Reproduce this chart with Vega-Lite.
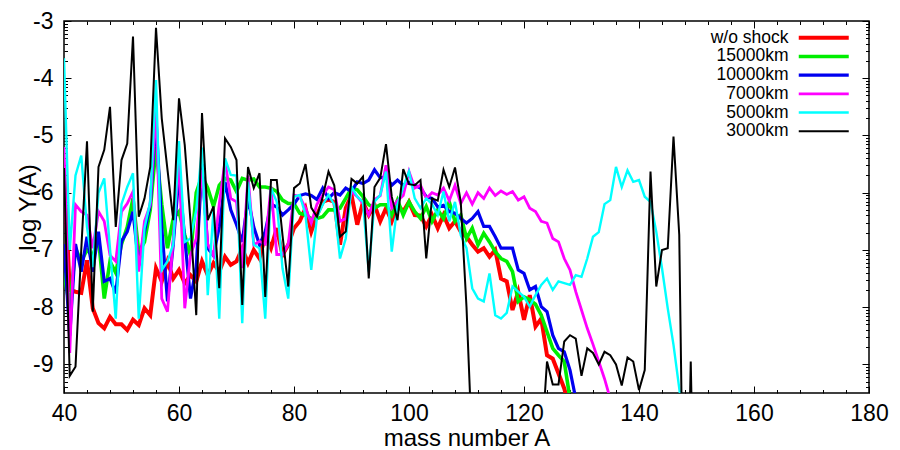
{
"$schema": "https://vega.github.io/schema/vega-lite/v6.json",
"autosize": {"type": "none"},
"width": 805, "height": 372,
"padding": {"left": 64, "top": 21, "right": 31, "bottom": 57},
"background": "white",
"config": {
  "view": {"stroke": "#000000", "strokeWidth": 1.5},
  "font": "Liberation Sans",
  "axis": {"domain": false, "grid": false, "tickColor": "#000000", "tickWidth": 1, "labelColor": "#000000", "titleColor": "#000000", "labelFont": "Liberation Sans", "titleFont": "Liberation Sans", "titleFontWeight": "normal", "labelFlush": false, "labelOverlap": false},
  "legend": {"orient": "none", "legendX": 751, "legendY": 8, "padding": 0, "symbolType": "M-5,0H5", "symbolSize": 100, "labelAlign": "right", "labelOffset": -44, "labelFontSize": 17.5, "labelFontWeight": "normal", "labelFont": "Liberation Sans", "labelColor": "#000000", "rowPadding": -0.3, "title": null}
},
"data": {"values": [
{"s":"w/o shock","A":40,"y":-5.57},{"s":"w/o shock","A":41,"y":-7.7},{"s":"w/o shock","A":42,"y":-7.73},{"s":"w/o shock","A":43,"y":-7.75},{"s":"w/o shock","A":44,"y":-7.18},{"s":"w/o shock","A":45,"y":-8.02},{"s":"w/o shock","A":46,"y":-8.28},{"s":"w/o shock","A":47,"y":-8.37},{"s":"w/o shock","A":48,"y":-8.17},{"s":"w/o shock","A":49,"y":-8.3},
{"s":"w/o shock","A":50,"y":-8.3},{"s":"w/o shock","A":51,"y":-8.4},{"s":"w/o shock","A":52,"y":-8.22},{"s":"w/o shock","A":53,"y":-8.31},{"s":"w/o shock","A":54,"y":-8.02},{"s":"w/o shock","A":55,"y":-8.14},{"s":"w/o shock","A":56,"y":-7.32},{"s":"w/o shock","A":57,"y":-7.55},{"s":"w/o shock","A":58,"y":-7.2},{"s":"w/o shock","A":59,"y":-7.5},
{"s":"w/o shock","A":60,"y":-7.35},{"s":"w/o shock","A":61,"y":-7.58},{"s":"w/o shock","A":62,"y":-7.44},{"s":"w/o shock","A":63,"y":-7.55},{"s":"w/o shock","A":64,"y":-7.2},{"s":"w/o shock","A":65,"y":-7.44},{"s":"w/o shock","A":66,"y":-7.23},{"s":"w/o shock","A":67,"y":-7.38},{"s":"w/o shock","A":68,"y":-7.12},{"s":"w/o shock","A":69,"y":-7.26},
{"s":"w/o shock","A":70,"y":-7.2},{"s":"w/o shock","A":71,"y":-6.97},{"s":"w/o shock","A":72,"y":-7.23},{"s":"w/o shock","A":73,"y":-7.0},{"s":"w/o shock","A":74,"y":-7.15},{"s":"w/o shock","A":75,"y":-6.74},{"s":"w/o shock","A":76,"y":-6.97},{"s":"w/o shock","A":77,"y":-6.62},{"s":"w/o shock","A":78,"y":-7.09},{"s":"w/o shock","A":79,"y":-6.91},
{"s":"w/o shock","A":80,"y":-6.62},{"s":"w/o shock","A":81,"y":-6.5},{"s":"w/o shock","A":82,"y":-6.27},{"s":"w/o shock","A":83,"y":-6.68},{"s":"w/o shock","A":84,"y":-6.39},{"s":"w/o shock","A":85,"y":-6.16},{"s":"w/o shock","A":86,"y":-6.12},{"s":"w/o shock","A":87,"y":-6.16},{"s":"w/o shock","A":88,"y":-6.91},{"s":"w/o shock","A":89,"y":-6.27},
{"s":"w/o shock","A":90,"y":-6.04},{"s":"w/o shock","A":91,"y":-6.56},{"s":"w/o shock","A":92,"y":-6.16},{"s":"w/o shock","A":93,"y":-6.39},{"s":"w/o shock","A":94,"y":-6.21},{"s":"w/o shock","A":95,"y":-6.5},{"s":"w/o shock","A":96,"y":-6.27},{"s":"w/o shock","A":97,"y":-6.5},{"s":"w/o shock","A":98,"y":-6.21},{"s":"w/o shock","A":99,"y":-6.33},
{"s":"w/o shock","A":100,"y":-6.16},{"s":"w/o shock","A":101,"y":-6.39},{"s":"w/o shock","A":102,"y":-6.4},{"s":"w/o shock","A":103,"y":-6.59},{"s":"w/o shock","A":104,"y":-6.39},{"s":"w/o shock","A":105,"y":-6.62},{"s":"w/o shock","A":106,"y":-6.39},{"s":"w/o shock","A":107,"y":-6.62},{"s":"w/o shock","A":108,"y":-6.5},{"s":"w/o shock","A":109,"y":-6.68},
{"s":"w/o shock","A":110,"y":-6.77},{"s":"w/o shock","A":111,"y":-6.91},{"s":"w/o shock","A":112,"y":-7.03},{"s":"w/o shock","A":113,"y":-6.97},{"s":"w/o shock","A":114,"y":-7.12},{"s":"w/o shock","A":115,"y":-7.0},{"s":"w/o shock","A":116,"y":-7.5},{"s":"w/o shock","A":117,"y":-7.55},{"s":"w/o shock","A":118,"y":-8.05},{"s":"w/o shock","A":119,"y":-7.73},
{"s":"w/o shock","A":120,"y":-8.22},{"s":"w/o shock","A":121,"y":-7.79},{"s":"w/o shock","A":122,"y":-8.34},{"s":"w/o shock","A":123,"y":-8.2},{"s":"w/o shock","A":124,"y":-8.84},{"s":"w/o shock","A":125,"y":-8.9},{"s":"w/o shock","A":126,"y":-9.16},{"s":"w/o shock","A":127,"y":-9.42},{"s":"w/o shock","A":128,"y":-9.8},{"s":"w/o shock","A":129,"y":-10.2},

{"s":"15000km","A":40,"y":-7.4},{"s":"15000km","A":41,"y":-8.0},{"s":"15000km","A":42,"y":-6.97},{"s":"15000km","A":43,"y":-7.2},{"s":"15000km","A":44,"y":-7.0},{"s":"15000km","A":45,"y":-7.1},{"s":"15000km","A":46,"y":-6.8},{"s":"15000km","A":47,"y":-7.85},{"s":"15000km","A":48,"y":-7.2},{"s":"15000km","A":49,"y":-7.4},
{"s":"15000km","A":50,"y":-6.9},{"s":"15000km","A":51,"y":-6.6},{"s":"15000km","A":52,"y":-6.1},{"s":"15000km","A":53,"y":-7.05},{"s":"15000km","A":54,"y":-6.86},{"s":"15000km","A":55,"y":-6.3},{"s":"15000km","A":56,"y":-5.2},{"s":"15000km","A":57,"y":-6.2},{"s":"15000km","A":58,"y":-6.97},{"s":"15000km","A":59,"y":-6.45},
{"s":"15000km","A":60,"y":-6.33},{"s":"15000km","A":61,"y":-6.74},{"s":"15000km","A":62,"y":-7.1},{"s":"15000km","A":63,"y":-6.0},{"s":"15000km","A":64,"y":-5.7},{"s":"15000km","A":65,"y":-5.92},{"s":"15000km","A":66,"y":-6.24},{"s":"15000km","A":67,"y":-5.87},{"s":"15000km","A":68,"y":-5.75},{"s":"15000km","A":69,"y":-5.78},
{"s":"15000km","A":70,"y":-5.98},{"s":"15000km","A":71,"y":-5.75},{"s":"15000km","A":72,"y":-5.78},{"s":"15000km","A":73,"y":-5.76},{"s":"15000km","A":74,"y":-5.9},{"s":"15000km","A":75,"y":-5.9},{"s":"15000km","A":76,"y":-5.92},{"s":"15000km","A":77,"y":-5.98},{"s":"15000km","A":78,"y":-6.13},{"s":"15000km","A":79,"y":-6.19},
{"s":"15000km","A":80,"y":-6.19},{"s":"15000km","A":81,"y":-6.36},{"s":"15000km","A":82,"y":-6.39},{"s":"15000km","A":83,"y":-6.45},{"s":"15000km","A":84,"y":-6.45},{"s":"15000km","A":85,"y":-6.42},{"s":"15000km","A":86,"y":-6.3},{"s":"15000km","A":87,"y":-6.3},{"s":"15000km","A":88,"y":-6.27},{"s":"15000km","A":89,"y":-6.1},
{"s":"15000km","A":90,"y":-5.92},{"s":"15000km","A":91,"y":-5.95},{"s":"15000km","A":92,"y":-6.07},{"s":"15000km","A":93,"y":-6.21},{"s":"15000km","A":94,"y":-6.27},{"s":"15000km","A":95,"y":-6.21},{"s":"15000km","A":96,"y":-6.21},{"s":"15000km","A":97,"y":-6.39},{"s":"15000km","A":98,"y":-6.13},{"s":"15000km","A":99,"y":-6.39},
{"s":"15000km","A":100,"y":-6.16},{"s":"15000km","A":101,"y":-6.33},{"s":"15000km","A":102,"y":-6.45},{"s":"15000km","A":103,"y":-6.24},{"s":"15000km","A":104,"y":-6.5},{"s":"15000km","A":105,"y":-6.3},{"s":"15000km","A":106,"y":-6.45},{"s":"15000km","A":107,"y":-6.16},{"s":"15000km","A":108,"y":-6.5},{"s":"15000km","A":109,"y":-6.39},
{"s":"15000km","A":110,"y":-6.8},{"s":"15000km","A":111,"y":-6.62},{"s":"15000km","A":112,"y":-6.91},{"s":"15000km","A":113,"y":-6.71},{"s":"15000km","A":114,"y":-6.86},{"s":"15000km","A":115,"y":-7.03},{"s":"15000km","A":116,"y":-7.15},{"s":"15000km","A":117,"y":-7.2},{"s":"15000km","A":118,"y":-7.38},{"s":"15000km","A":119,"y":-7.9},
{"s":"15000km","A":120,"y":-7.82},{"s":"15000km","A":121,"y":-7.87},{"s":"15000km","A":122,"y":-7.95},{"s":"15000km","A":123,"y":-8.14},{"s":"15000km","A":124,"y":-8.43},{"s":"15000km","A":125,"y":-8.72},{"s":"15000km","A":126,"y":-8.84},{"s":"15000km","A":127,"y":-8.95},{"s":"15000km","A":128,"y":-9.6},{"s":"15000km","A":129,"y":-10.2},

{"s":"10000km","A":40,"y":-6.9},{"s":"10000km","A":41,"y":-8.5},{"s":"10000km","A":42,"y":-6.9},{"s":"10000km","A":43,"y":-7.38},{"s":"10000km","A":44,"y":-6.77},{"s":"10000km","A":45,"y":-7.38},{"s":"10000km","A":46,"y":-6.68},{"s":"10000km","A":47,"y":-7.55},{"s":"10000km","A":48,"y":-7.5},{"s":"10000km","A":49,"y":-7.76},
{"s":"10000km","A":50,"y":-6.85},{"s":"10000km","A":51,"y":-6.68},{"s":"10000km","A":52,"y":-6.33},{"s":"10000km","A":53,"y":-7.27},{"s":"10000km","A":54,"y":-6.68},{"s":"10000km","A":55,"y":-6.21},{"s":"10000km","A":56,"y":-4.7},{"s":"10000km","A":57,"y":-6.6},{"s":"10000km","A":58,"y":-7.9},{"s":"10000km","A":59,"y":-6.9},
{"s":"10000km","A":60,"y":-5.69},{"s":"10000km","A":61,"y":-6.8},{"s":"10000km","A":62,"y":-7.85},{"s":"10000km","A":63,"y":-7.3},{"s":"10000km","A":64,"y":-5.5},{"s":"10000km","A":65,"y":-6.97},{"s":"10000km","A":66,"y":-7.1},{"s":"10000km","A":67,"y":-6.6},{"s":"10000km","A":68,"y":-5.81},{"s":"10000km","A":69,"y":-6.3},
{"s":"10000km","A":70,"y":-6.56},{"s":"10000km","A":71,"y":-6.86},{"s":"10000km","A":72,"y":-6.1},{"s":"10000km","A":73,"y":-6.6},{"s":"10000km","A":74,"y":-6.91},{"s":"10000km","A":75,"y":-6.68},{"s":"10000km","A":76,"y":-6.2},{"s":"10000km","A":77,"y":-6.25},{"s":"10000km","A":78,"y":-6.39},{"s":"10000km","A":79,"y":-6.3},
{"s":"10000km","A":80,"y":-6.2},{"s":"10000km","A":81,"y":-6.05},{"s":"10000km","A":82,"y":-6.02},{"s":"10000km","A":83,"y":-6.05},{"s":"10000km","A":84,"y":-6.12},{"s":"10000km","A":85,"y":-5.92},{"s":"10000km","A":86,"y":-6.1},{"s":"10000km","A":87,"y":-6.0},{"s":"10000km","A":88,"y":-6.04},{"s":"10000km","A":89,"y":-5.92},
{"s":"10000km","A":90,"y":-5.98},{"s":"10000km","A":91,"y":-5.81},{"s":"10000km","A":92,"y":-5.84},{"s":"10000km","A":93,"y":-5.78},{"s":"10000km","A":94,"y":-5.6},{"s":"10000km","A":95,"y":-5.74},{"s":"10000km","A":96,"y":-5.72},{"s":"10000km","A":97,"y":-5.87},{"s":"10000km","A":98,"y":-5.78},{"s":"10000km","A":99,"y":-5.87},
{"s":"10000km","A":100,"y":-5.82},{"s":"10000km","A":101,"y":-5.87},{"s":"10000km","A":102,"y":-5.92},{"s":"10000km","A":103,"y":-6.07},{"s":"10000km","A":104,"y":-6.1},{"s":"10000km","A":105,"y":-6.25},{"s":"10000km","A":106,"y":-6.22},{"s":"10000km","A":107,"y":-6.33},{"s":"10000km","A":108,"y":-6.36},{"s":"10000km","A":109,"y":-6.45},
{"s":"10000km","A":110,"y":-6.53},{"s":"10000km","A":111,"y":-6.45},{"s":"10000km","A":112,"y":-6.33},{"s":"10000km","A":113,"y":-6.59},{"s":"10000km","A":114,"y":-6.59},{"s":"10000km","A":115,"y":-6.77},{"s":"10000km","A":116,"y":-6.97},{"s":"10000km","A":117,"y":-6.97},{"s":"10000km","A":118,"y":-6.97},{"s":"10000km","A":119,"y":-7.35},
{"s":"10000km","A":120,"y":-7.41},{"s":"10000km","A":121,"y":-7.7},{"s":"10000km","A":122,"y":-7.64},{"s":"10000km","A":123,"y":-7.99},{"s":"10000km","A":124,"y":-8.08},{"s":"10000km","A":125,"y":-8.49},{"s":"10000km","A":126,"y":-8.72},{"s":"10000km","A":127,"y":-8.78},{"s":"10000km","A":128,"y":-9.1},{"s":"10000km","A":129,"y":-9.6},{"s":"10000km","A":130,"y":-10.2},

{"s":"7000km","A":40,"y":-5.2},{"s":"7000km","A":41,"y":-8.8},{"s":"7000km","A":42,"y":-6.21},{"s":"7000km","A":43,"y":-6.33},{"s":"7000km","A":44,"y":-6.39},{"s":"7000km","A":45,"y":-6.97},{"s":"7000km","A":46,"y":-6.33},{"s":"7000km","A":47,"y":-6.5},{"s":"7000km","A":48,"y":-7.09},{"s":"7000km","A":49,"y":-7.2},
{"s":"7000km","A":50,"y":-6.33},{"s":"7000km","A":51,"y":-6.19},{"s":"7000km","A":52,"y":-5.98},{"s":"7000km","A":53,"y":-7.38},{"s":"7000km","A":54,"y":-6.5},{"s":"7000km","A":55,"y":-6.21},{"s":"7000km","A":56,"y":-4.47},{"s":"7000km","A":57,"y":-7.85},{"s":"7000km","A":58,"y":-8.08},{"s":"7000km","A":59,"y":-6.8},
{"s":"7000km","A":60,"y":-5.4},{"s":"7000km","A":61,"y":-8.02},{"s":"7000km","A":62,"y":-7.09},{"s":"7000km","A":63,"y":-6.8},{"s":"7000km","A":64,"y":-5.6},{"s":"7000km","A":65,"y":-6.9},{"s":"7000km","A":66,"y":-7.1},{"s":"7000km","A":67,"y":-6.2},{"s":"7000km","A":68,"y":-5.45},{"s":"7000km","A":69,"y":-6.1},
{"s":"7000km","A":70,"y":-6.16},{"s":"7000km","A":71,"y":-7.32},{"s":"7000km","A":72,"y":-5.7},{"s":"7000km","A":73,"y":-6.91},{"s":"7000km","A":74,"y":-6.85},{"s":"7000km","A":75,"y":-6.9},{"s":"7000km","A":76,"y":-5.9},{"s":"7000km","A":77,"y":-7.08},{"s":"7000km","A":78,"y":-7.08},{"s":"7000km","A":79,"y":-6.9},
{"s":"7000km","A":80,"y":-6.04},{"s":"7000km","A":81,"y":-6.07},{"s":"7000km","A":82,"y":-6.27},{"s":"7000km","A":83,"y":-6.53},{"s":"7000km","A":84,"y":-6.2},{"s":"7000km","A":85,"y":-6.04},{"s":"7000km","A":86,"y":-5.9},{"s":"7000km","A":87,"y":-5.95},{"s":"7000km","A":88,"y":-6.5},{"s":"7000km","A":89,"y":-6.45},
{"s":"7000km","A":90,"y":-5.98},{"s":"7000km","A":91,"y":-6.07},{"s":"7000km","A":92,"y":-6.19},{"s":"7000km","A":93,"y":-6.39},{"s":"7000km","A":94,"y":-6.12},{"s":"7000km","A":95,"y":-6.05},{"s":"7000km","A":96,"y":-5.52},{"s":"7000km","A":97,"y":-6.27},{"s":"7000km","A":98,"y":-6.14},{"s":"7000km","A":99,"y":-6.05},
{"s":"7000km","A":100,"y":-5.63},{"s":"7000km","A":101,"y":-5.92},{"s":"7000km","A":102,"y":-5.87},{"s":"7000km","A":103,"y":-6.1},{"s":"7000km","A":104,"y":-6.0},{"s":"7000km","A":105,"y":-6.04},{"s":"7000km","A":106,"y":-5.92},{"s":"7000km","A":107,"y":-6.14},{"s":"7000km","A":108,"y":-5.87},{"s":"7000km","A":109,"y":-6.19},
{"s":"7000km","A":110,"y":-6.0},{"s":"7000km","A":111,"y":-6.2},{"s":"7000km","A":112,"y":-6.0},{"s":"7000km","A":113,"y":-6.1},{"s":"7000km","A":114,"y":-5.92},{"s":"7000km","A":115,"y":-6.05},{"s":"7000km","A":116,"y":-5.97},{"s":"7000km","A":117,"y":-6.03},{"s":"7000km","A":118,"y":-5.98},{"s":"7000km","A":119,"y":-6.13},
{"s":"7000km","A":120,"y":-6.07},{"s":"7000km","A":121,"y":-6.27},{"s":"7000km","A":122,"y":-6.33},{"s":"7000km","A":123,"y":-6.5},{"s":"7000km","A":124,"y":-6.53},{"s":"7000km","A":125,"y":-6.8},{"s":"7000km","A":126,"y":-6.86},{"s":"7000km","A":127,"y":-7.15},{"s":"7000km","A":128,"y":-7.35},{"s":"7000km","A":129,"y":-7.73},
{"s":"7000km","A":130,"y":-8.05},{"s":"7000km","A":131,"y":-8.37},{"s":"7000km","A":132,"y":-8.65},{"s":"7000km","A":133,"y":-8.95},{"s":"7000km","A":134,"y":-9.25},{"s":"7000km","A":135,"y":-9.6},{"s":"7000km","A":136,"y":-10.0},

{"s":"5000km","A":40,"y":-3.65},{"s":"5000km","A":41,"y":-7.0},{"s":"5000km","A":42,"y":-5.7},{"s":"5000km","A":43,"y":-5.35},{"s":"5000km","A":44,"y":-6.6},{"s":"5000km","A":45,"y":-7.3},{"s":"5000km","A":46,"y":-6.0},{"s":"5000km","A":47,"y":-5.75},{"s":"5000km","A":48,"y":-6.98},{"s":"5000km","A":49,"y":-8.2},
{"s":"5000km","A":50,"y":-6.2},{"s":"5000km","A":51,"y":-5.9},{"s":"5000km","A":52,"y":-5.66},{"s":"5000km","A":53,"y":-8.2},{"s":"5000km","A":54,"y":-6.62},{"s":"5000km","A":55,"y":-6.16},{"s":"5000km","A":56,"y":-4.03},{"s":"5000km","A":57,"y":-7.35},{"s":"5000km","A":58,"y":-7.2},{"s":"5000km","A":59,"y":-6.9},
{"s":"5000km","A":60,"y":-5.1},{"s":"5000km","A":61,"y":-6.86},{"s":"5000km","A":62,"y":-6.8},{"s":"5000km","A":63,"y":-6.3},{"s":"5000km","A":64,"y":-5.21},{"s":"5000km","A":65,"y":-7.79},{"s":"5000km","A":66,"y":-6.3},{"s":"5000km","A":67,"y":-8.2},{"s":"5000km","A":68,"y":-5.4},{"s":"5000km","A":69,"y":-5.69},
{"s":"5000km","A":70,"y":-5.7},{"s":"5000km","A":71,"y":-8.28},{"s":"5000km","A":72,"y":-5.81},{"s":"5000km","A":73,"y":-6.91},{"s":"5000km","A":74,"y":-6.97},{"s":"5000km","A":75,"y":-8.2},{"s":"5000km","A":76,"y":-5.92},{"s":"5000km","A":77,"y":-6.16},{"s":"5000km","A":78,"y":-7.32},{"s":"5000km","A":79,"y":-7.85},
{"s":"5000km","A":80,"y":-6.07},{"s":"5000km","A":81,"y":-6.04},{"s":"5000km","A":82,"y":-6.39},{"s":"5000km","A":83,"y":-7.35},{"s":"5000km","A":84,"y":-6.42},{"s":"5000km","A":85,"y":-6.21},{"s":"5000km","A":86,"y":-6.04},{"s":"5000km","A":87,"y":-6.21},{"s":"5000km","A":88,"y":-7.15},{"s":"5000km","A":89,"y":-6.8},
{"s":"5000km","A":90,"y":-5.9},{"s":"5000km","A":91,"y":-6.07},{"s":"5000km","A":92,"y":-6.16},{"s":"5000km","A":93,"y":-7.38},{"s":"5000km","A":94,"y":-6.16},{"s":"5000km","A":95,"y":-6.04},{"s":"5000km","A":96,"y":-5.63},{"s":"5000km","A":97,"y":-7.03},{"s":"5000km","A":98,"y":-6.21},{"s":"5000km","A":99,"y":-5.9},
{"s":"5000km","A":100,"y":-5.63},{"s":"5000km","A":101,"y":-6.1},{"s":"5000km","A":102,"y":-6.27},{"s":"5000km","A":103,"y":-6.1},{"s":"5000km","A":104,"y":-6.2},{"s":"5000km","A":105,"y":-6.39},{"s":"5000km","A":106,"y":-5.98},{"s":"5000km","A":107,"y":-6.5},{"s":"5000km","A":108,"y":-6.16},{"s":"5000km","A":109,"y":-6.74},
{"s":"5000km","A":110,"y":-6.97},{"s":"5000km","A":111,"y":-7.67},{"s":"5000km","A":112,"y":-7.85},{"s":"5000km","A":113,"y":-7.9},{"s":"5000km","A":114,"y":-7.41},{"s":"5000km","A":115,"y":-8.14},{"s":"5000km","A":116,"y":-8.2},{"s":"5000km","A":117,"y":-8.1},{"s":"5000km","A":118,"y":-7.64},{"s":"5000km","A":119,"y":-7.73},
{"s":"5000km","A":120,"y":-7.82},{"s":"5000km","A":121,"y":-7.99},{"s":"5000km","A":122,"y":-7.79},{"s":"5000km","A":123,"y":-7.61},{"s":"5000km","A":124,"y":-7.5},{"s":"5000km","A":125,"y":-7.7},{"s":"5000km","A":126,"y":-7.55},{"s":"5000km","A":127,"y":-7.58},{"s":"5000km","A":128,"y":-7.61},{"s":"5000km","A":129,"y":-7.44},
{"s":"5000km","A":130,"y":-7.47},{"s":"5000km","A":131,"y":-7.15},{"s":"5000km","A":132,"y":-6.77},{"s":"5000km","A":133,"y":-6.69},{"s":"5000km","A":134,"y":-6.2},{"s":"5000km","A":135,"y":-6.13},{"s":"5000km","A":136,"y":-5.55},{"s":"5000km","A":137,"y":-5.9},{"s":"5000km","A":138,"y":-5.61},{"s":"5000km","A":139,"y":-5.81},
{"s":"5000km","A":140,"y":-5.78},{"s":"5000km","A":141,"y":-6.07},{"s":"5000km","A":142,"y":-6.16},{"s":"5000km","A":143,"y":-6.68},{"s":"5000km","A":144,"y":-7.32},{"s":"5000km","A":145,"y":-8.02},{"s":"5000km","A":146,"y":-8.66},{"s":"5000km","A":147,"y":-9.42},{"s":"5000km","A":148,"y":-10.2},

{"s":"3000km","A":40,"y":-5.57},{"s":"3000km","A":41,"y":-9.2},{"s":"3000km","A":42,"y":-9.04},{"s":"3000km","A":43,"y":-7.0},{"s":"3000km","A":44,"y":-5.1},{"s":"3000km","A":45,"y":-8.08},{"s":"3000km","A":46,"y":-5.55},{"s":"3000km","A":47,"y":-5.25},{"s":"3000km","A":48,"y":-4.5},{"s":"3000km","A":49,"y":-6.6},
{"s":"3000km","A":50,"y":-5.43},{"s":"3000km","A":51,"y":-5.14},{"s":"3000km","A":52,"y":-3.27},{"s":"3000km","A":53,"y":-6.42},{"s":"3000km","A":54,"y":-6.1},{"s":"3000km","A":55,"y":-5.55},{"s":"3000km","A":56,"y":-3.12},{"s":"3000km","A":57,"y":-4.7},{"s":"3000km","A":58,"y":-5.6},{"s":"3000km","A":59,"y":-6.48},
{"s":"3000km","A":60,"y":-4.35},{"s":"3000km","A":61,"y":-5.17},{"s":"3000km","A":62,"y":-6.5},{"s":"3000km","A":63,"y":-8.14},{"s":"3000km","A":64,"y":-4.61},{"s":"3000km","A":65,"y":-6.48},{"s":"3000km","A":66,"y":-6.24},{"s":"3000km","A":67,"y":-7.67},{"s":"3000km","A":68,"y":-5.05},{"s":"3000km","A":69,"y":-5.2},
{"s":"3000km","A":70,"y":-5.43},{"s":"3000km","A":71,"y":-7.96},{"s":"3000km","A":72,"y":-5.55},{"s":"3000km","A":73,"y":-5.92},{"s":"3000km","A":74,"y":-5.66},{"s":"3000km","A":75,"y":-7.82},{"s":"3000km","A":76,"y":-5.78},{"s":"3000km","A":77,"y":-5.78},{"s":"3000km","A":78,"y":-6.74},{"s":"3000km","A":79,"y":-7.64},
{"s":"3000km","A":80,"y":-5.92},{"s":"3000km","A":81,"y":-5.84},{"s":"3000km","A":82,"y":-5.5},{"s":"3000km","A":83,"y":-6.26},{"s":"3000km","A":84,"y":-6.42},{"s":"3000km","A":85,"y":-6.07},{"s":"3000km","A":86,"y":-5.63},{"s":"3000km","A":87,"y":-5.87},{"s":"3000km","A":88,"y":-6.77},{"s":"3000km","A":89,"y":-6.68},
{"s":"3000km","A":90,"y":-5.76},{"s":"3000km","A":91,"y":-5.84},{"s":"3000km","A":92,"y":-5.72},{"s":"3000km","A":93,"y":-7.5},{"s":"3000km","A":94,"y":-5.9},{"s":"3000km","A":95,"y":-5.74},{"s":"3000km","A":96,"y":-5.15},{"s":"3000km","A":97,"y":-6.07},{"s":"3000km","A":98,"y":-6.48},{"s":"3000km","A":99,"y":-5.59},
{"s":"3000km","A":100,"y":-5.85},{"s":"3000km","A":101,"y":-5.87},{"s":"3000km","A":102,"y":-5.78},{"s":"3000km","A":103,"y":-7.15},{"s":"3000km","A":104,"y":-6.1},{"s":"3000km","A":105,"y":-6.14},{"s":"3000km","A":106,"y":-5.6},{"s":"3000km","A":107,"y":-5.9},{"s":"3000km","A":108,"y":-5.56},{"s":"3000km","A":109,"y":-6.16},
{"s":"3000km","A":110,"y":-8.0},{"s":"3000km","A":111,"y":-10.5},{"s":"3000km","A":122,"y":-10.5},{"s":"3000km","A":123,"y":-10.5},{"s":"3000km","A":124,"y":-8.95},{"s":"3000km","A":125,"y":-9.35},{"s":"3000km","A":126,"y":-9.35},{"s":"3000km","A":127,"y":-8.6},{"s":"3000km","A":128,"y":-8.49},{"s":"3000km","A":129,"y":-8.55},
{"s":"3000km","A":130,"y":-9.2},{"s":"3000km","A":131,"y":-8.72},{"s":"3000km","A":132,"y":-8.8},{"s":"3000km","A":133,"y":-9.0},{"s":"3000km","A":134,"y":-8.78},{"s":"3000km","A":135,"y":-8.84},{"s":"3000km","A":136,"y":-9.0},{"s":"3000km","A":137,"y":-9.37},{"s":"3000km","A":138,"y":-8.88},{"s":"3000km","A":139,"y":-8.95},
{"s":"3000km","A":140,"y":-9.45},{"s":"3000km","A":141,"y":-9.1},{"s":"3000km","A":142,"y":-5.63},{"s":"3000km","A":143,"y":-7.64},{"s":"3000km","A":144,"y":-7.0},{"s":"3000km","A":145,"y":-6.97},{"s":"3000km","A":146,"y":-5.02},{"s":"3000km","A":147,"y":-6.74},{"s":"3000km","A":148,"y":-14},{"s":"3000km","A":149,"y":-8.95},{"s":"3000km","A":150,"y":-14}
]},
"resolve": {"axis": {"x": "independent", "y": "independent"}},
"layer": [
  {
    "mark": {"type": "line", "clip": true},
    "encoding": {
      "x": {"field": "A", "type": "quantitative", "scale": {"domain": [40, 180], "nice": false, "zero": false},
        "axis": {"orient": "bottom", "values": [40, 60, 80, 100, 120, 140, 160, 180], "tickSize": -7, "labelFontSize": 23, "labelBaseline": "alphabetic", "labelPadding": 34, "title": "mass number A", "titleFontSize": 24, "titleBaseline": "alphabetic", "titleY": 52}},
      "y": {"field": "y", "type": "quantitative", "scale": {"domain": [-9.5, -3], "nice": false, "zero": false},
        "axis": {"orient": "left", "values": [-9, -8, -7, -6, -5, -4, -3], "labelExpr": "replace(datum.label, '\u2212', '-')", "tickSize": -7, "labelFontSize": 23, "labelPadding": 18, "labelBaseline": "middle", "title": "log Y(A)", "titleFontSize": 24, "titleAngle": -90, "titleBaseline": "alphabetic", "titleAlign": "center", "titleX": -29, "titleY": 186}},
      "color": {"field": "s", "type": "nominal", "scale": {"domain": ["w/o shock", "15000km", "10000km", "7000km", "5000km", "3000km"], "range": ["#ff0000", "#00ee00", "#0000f0", "#ff00ff", "#00ffff", "#000000"]}, "legend": {"title": null}},
      "strokeWidth": {"field": "s", "type": "nominal", "scale": {"domain": ["w/o shock", "15000km", "10000km", "7000km", "5000km", "3000km"], "range": [4, 2, 2, 2, 2, 1.5]}, "legend": {"title": null}}
    }
  },
  {
    "mark": {"type": "point", "opacity": 0},
    "encoding": {
      "x": {"field": "A", "type": "quantitative", "scale": {"domain": [40, 180], "nice": false, "zero": false},
        "axis": {"orient": "bottom", "values": [44,48,52,56,64,68,72,76,84,88,92,96,104,108,112,116,124,128,132,136,144,148,152,156,164,168,172,176], "tickSize": -3.5, "labels": false, "title": null}},
      "y": {"field": "y", "type": "quantitative", "scale": {"domain": [-9.5, -3], "nice": false, "zero": false},
        "axis": {"orient": "left", "values": [-9.39794,-9.30103,-9.22185,-9.1549,-9.09691,-9.04576,-8.69897,-8.52288,-8.39794,-8.30103,-8.22185,-8.1549,-8.09691,-8.04576,-7.69897,-7.52288,-7.39794,-7.30103,-7.22185,-7.1549,-7.09691,-7.04576,-6.69897,-6.52288,-6.39794,-6.30103,-6.22185,-6.1549,-6.09691,-6.04576,-5.69897,-5.52288,-5.39794,-5.30103,-5.22185,-5.1549,-5.09691,-5.04576,-4.69897,-4.52288,-4.39794,-4.30103,-4.22185,-4.1549,-4.09691,-4.04576,-3.69897,-3.52288,-3.39794,-3.30103,-3.22185,-3.1549,-3.09691,-3.04576], "tickSize": -3.5, "labels": false, "title": null}}
    }
  },
  {
    "mark": {"type": "point", "opacity": 0},
    "encoding": {
      "x": {"field": "A", "type": "quantitative", "scale": {"domain": [40, 180], "nice": false, "zero": false},
        "axis": {"orient": "top", "values": [40, 60, 80, 100, 120, 140, 160, 180], "tickSize": -7, "labels": false, "title": null}},
      "y": {"field": "y", "type": "quantitative", "scale": {"domain": [-9.5, -3], "nice": false, "zero": false},
        "axis": {"orient": "right", "values": [-9, -8, -7, -6, -5, -4, -3], "tickSize": -7, "labels": false, "title": null}}
    }
  },
  {
    "mark": {"type": "point", "opacity": 0},
    "encoding": {
      "x": {"field": "A", "type": "quantitative", "scale": {"domain": [40, 180], "nice": false, "zero": false},
        "axis": {"orient": "top", "values": [44,48,52,56,64,68,72,76,84,88,92,96,104,108,112,116,124,128,132,136,144,148,152,156,164,168,172,176], "tickSize": -3.5, "labels": false, "title": null}},
      "y": {"field": "y", "type": "quantitative", "scale": {"domain": [-9.5, -3], "nice": false, "zero": false},
        "axis": {"orient": "right", "values": [-9.39794,-9.30103,-9.22185,-9.1549,-9.09691,-9.04576,-8.69897,-8.52288,-8.39794,-8.30103,-8.22185,-8.1549,-8.09691,-8.04576,-7.69897,-7.52288,-7.39794,-7.30103,-7.22185,-7.1549,-7.09691,-7.04576,-6.69897,-6.52288,-6.39794,-6.30103,-6.22185,-6.1549,-6.09691,-6.04576,-5.69897,-5.52288,-5.39794,-5.30103,-5.22185,-5.1549,-5.09691,-5.04576,-4.69897,-4.52288,-4.39794,-4.30103,-4.22185,-4.1549,-4.09691,-4.04576,-3.69897,-3.52288,-3.39794,-3.30103,-3.22185,-3.1549,-3.09691,-3.04576], "tickSize": -3.5, "labels": false, "title": null}}
    }
  }
]
}
